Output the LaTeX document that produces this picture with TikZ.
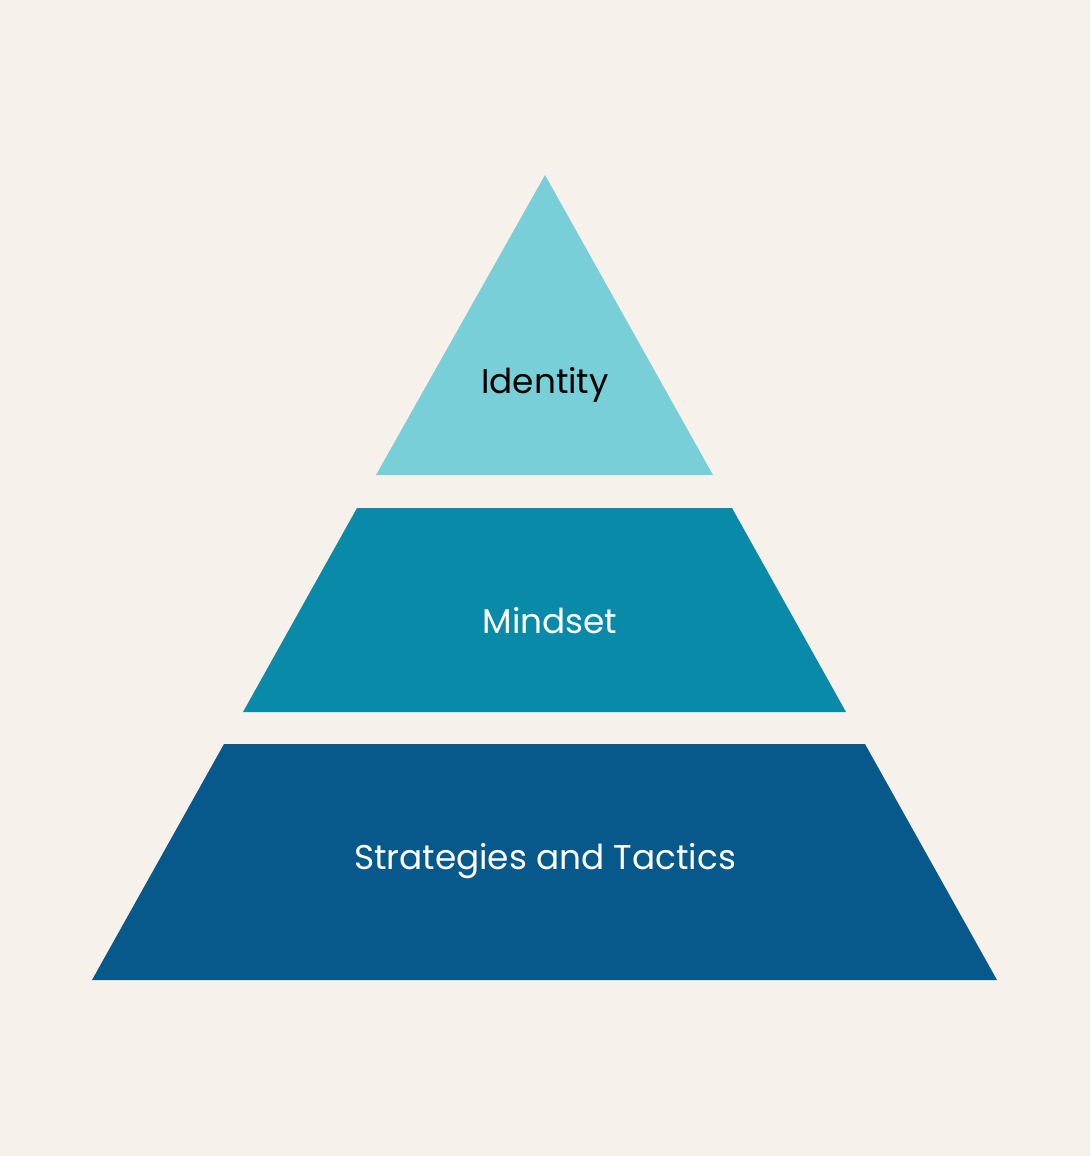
\documentclass[tikz,border=0pt]{standalone}
\usepackage{fontspec}
\setmainfont{Poppins}
\definecolor{bg}{HTML}{F6F1EA}
\definecolor{lite}{HTML}{79CFD8}
\definecolor{mid}{HTML}{0A8AA9}
\definecolor{dark}{HTML}{07598C}
\begin{document}
\begin{tikzpicture}[x=1pt,y=-1pt,
  lbl/.style={font=\fontsize{34.3}{40}\selectfont, inner sep=0pt}]
\fill[bg] (0,0) rectangle (1090,1156);
\useasboundingbox (0,0) rectangle (1090,1156);
\fill[lite] (545,175) -- (713,475) -- (376,475) -- cycle;
\fill[mid] (357,508) -- (732,508) -- (846,712) -- (243,712) -- cycle;
\fill[dark] (224,744) -- (865,744) -- (997,980) -- (92,980) -- cycle;
\node[lbl, text=black] (identity) at (545,385) {Identity};
\node[lbl, text=white] (mindset) at (550,621) {Mindset};
\node[lbl, text=white] (strat) at (545,861) {Strategies and Tactics};
\end{tikzpicture}
\end{document}
